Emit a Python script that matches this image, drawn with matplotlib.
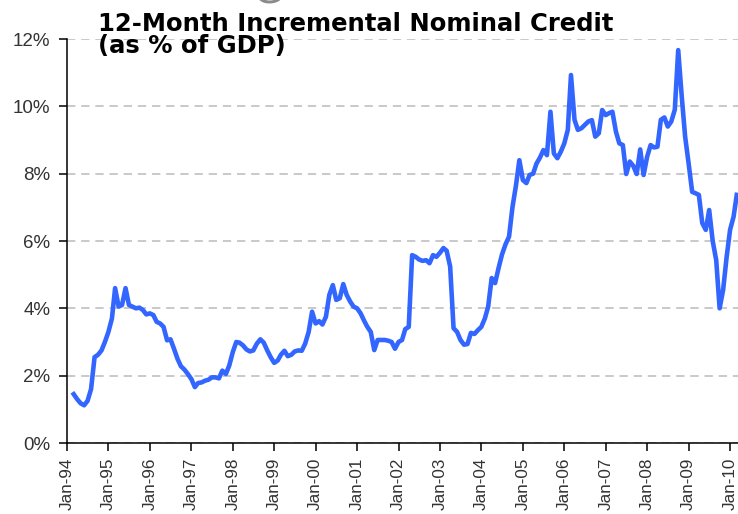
import matplotlib
matplotlib.use("Agg")
import matplotlib.pyplot as plt
import matplotlib.dates as mdates
import matplotlib.ticker as mticker
import pandas as pd

# monthly values, % of GDP, first point Mar-94
start = "1994-03-01"
credit = [
    1.45, 1.30, 1.18, 1.12, 1.25, 1.60, 2.55, 2.62, 2.75, 3.00,          # 1994 (Mar-Dec)
    3.30, 3.70, 4.60, 4.05, 4.10, 4.60, 4.10, 4.05, 4.00, 4.02, 3.95, 3.82,  # 1995
    3.85, 3.80, 3.60, 3.55, 3.45, 3.05, 3.08, 2.80, 2.50, 2.28, 2.18, 2.05,  # 1996
    1.90, 1.66, 1.78, 1.80, 1.85, 1.88, 1.95, 1.95, 1.92, 2.15, 2.05, 2.30,  # 1997
    2.70, 3.00, 2.98, 2.90, 2.78, 2.72, 2.75, 2.95, 3.08, 2.98, 2.75, 2.55,  # 1998
    2.38, 2.45, 2.62, 2.74, 2.58, 2.62, 2.72, 2.75, 2.74, 2.95, 3.30, 3.90,  # 1999
    3.55, 3.62, 3.52, 3.75, 4.40, 4.69, 4.25, 4.30, 4.72, 4.40, 4.20, 4.05,  # 2000
    4.00, 3.85, 3.65, 3.45, 3.30, 2.76, 3.06, 3.06, 3.06, 3.04, 3.00, 2.80,  # 2001
    3.00, 3.06, 3.38, 3.45, 5.58, 5.53, 5.45, 5.41, 5.43, 5.34, 5.58, 5.53,  # 2002
    5.65, 5.79, 5.71, 5.24, 3.41, 3.30, 3.06, 2.92, 2.94, 3.27, 3.24, 3.35,  # 2003
    3.45, 3.70, 4.05, 4.90, 4.75, 5.20, 5.60, 5.90, 6.13, 7.00, 7.65, 8.40,  # 2004
    7.81, 7.72, 7.96, 8.00, 8.30, 8.48, 8.70, 8.55, 9.84, 8.60, 8.46, 8.65,  # 2005
    8.90, 9.30, 10.93, 9.60, 9.30, 9.35, 9.45, 9.55, 9.59, 9.10, 9.20, 9.89,  # 2006
    9.74, 9.80, 9.84, 9.25, 8.90, 8.85, 7.99, 8.36, 8.23, 7.99, 8.72, 7.96,  # 2007
    8.50, 8.85, 8.78, 8.80, 9.60, 9.67, 9.40, 9.55, 9.90, 11.67, 10.30, 9.10,  # 2008
    8.30, 7.46, 7.42, 7.37, 6.53, 6.33, 6.92, 6.00, 5.43, 4.00, 4.55, 5.50,  # 2009
    6.33, 6.72, 7.37,                                                    # 2010
]
dates = pd.date_range(start, periods=len(credit), freq="MS")

title_1 = "12-Month Incremental Nominal Credit"
title_2 = "(as % of GDP)"

fig = plt.figure(figsize=(7.38, 5.14), dpi=100)
ax = fig.add_axes([67 / 738, 1 - 443 / 514, 1 - 67 / 738, (443 - 39) / 514])

ax.plot(dates, credit, color="#3366FF", lw=3.3, solid_joinstyle="round")

ax.set_ylim(0, 12)
ax.set_xlim(pd.Timestamp("1994-01-01"), pd.Timestamp("2010-03-12"))
ax.yaxis.set_major_locator(mticker.MultipleLocator(2))
ax.yaxis.set_major_formatter(mticker.FuncFormatter(lambda v, p: f"{v:.0f}%"))
ax.xaxis.set_major_locator(mdates.YearLocator(1, month=1, day=1))
ax.xaxis.set_major_formatter(mdates.DateFormatter("Jan-%y"))

ax.grid(axis="y", color="#C0C0C0", ls=(0, (5, 3.5)), lw=1.2)
ax.set_axisbelow(True)
for s in ["top", "right"]:
    ax.spines[s].set_visible(False)
for s in ["left", "bottom"]:
    ax.spines[s].set_linewidth(1.1)

ax.tick_params(axis="both", direction="out", length=5.5, width=1.1,
               labelcolor="#333333")
ax.tick_params(axis="y", pad=6.5, labelsize=13.5)
ax.tick_params(axis="x", pad=5.0, labelrotation=90, labelsize=12.3)
for lab in ax.get_yticklabels() + ax.get_xticklabels():
    lab.set_fontfamily("Liberation Sans")

# title drawn inside the plot area, two lines
fig.text(98 / 738, 1 - 30.7 / 514, title_1, fontsize=17.5, fontweight="bold",
         family="DejaVu Sans", va="baseline", ha="left")
fig.text(98 / 738, 1 - 53.3 / 514, title_2, fontsize=17.5, fontweight="bold",
         family="DejaVu Sans", va="baseline", ha="left")
# tail of a letter cut off at the top edge
fig.text(268 / 738, 1 - 3 / 514, "G", fontsize=28, color="#8A8A8A",
         family="DejaVu Sans", va="baseline", ha="center")

fig.savefig("out.png", dpi=100)
